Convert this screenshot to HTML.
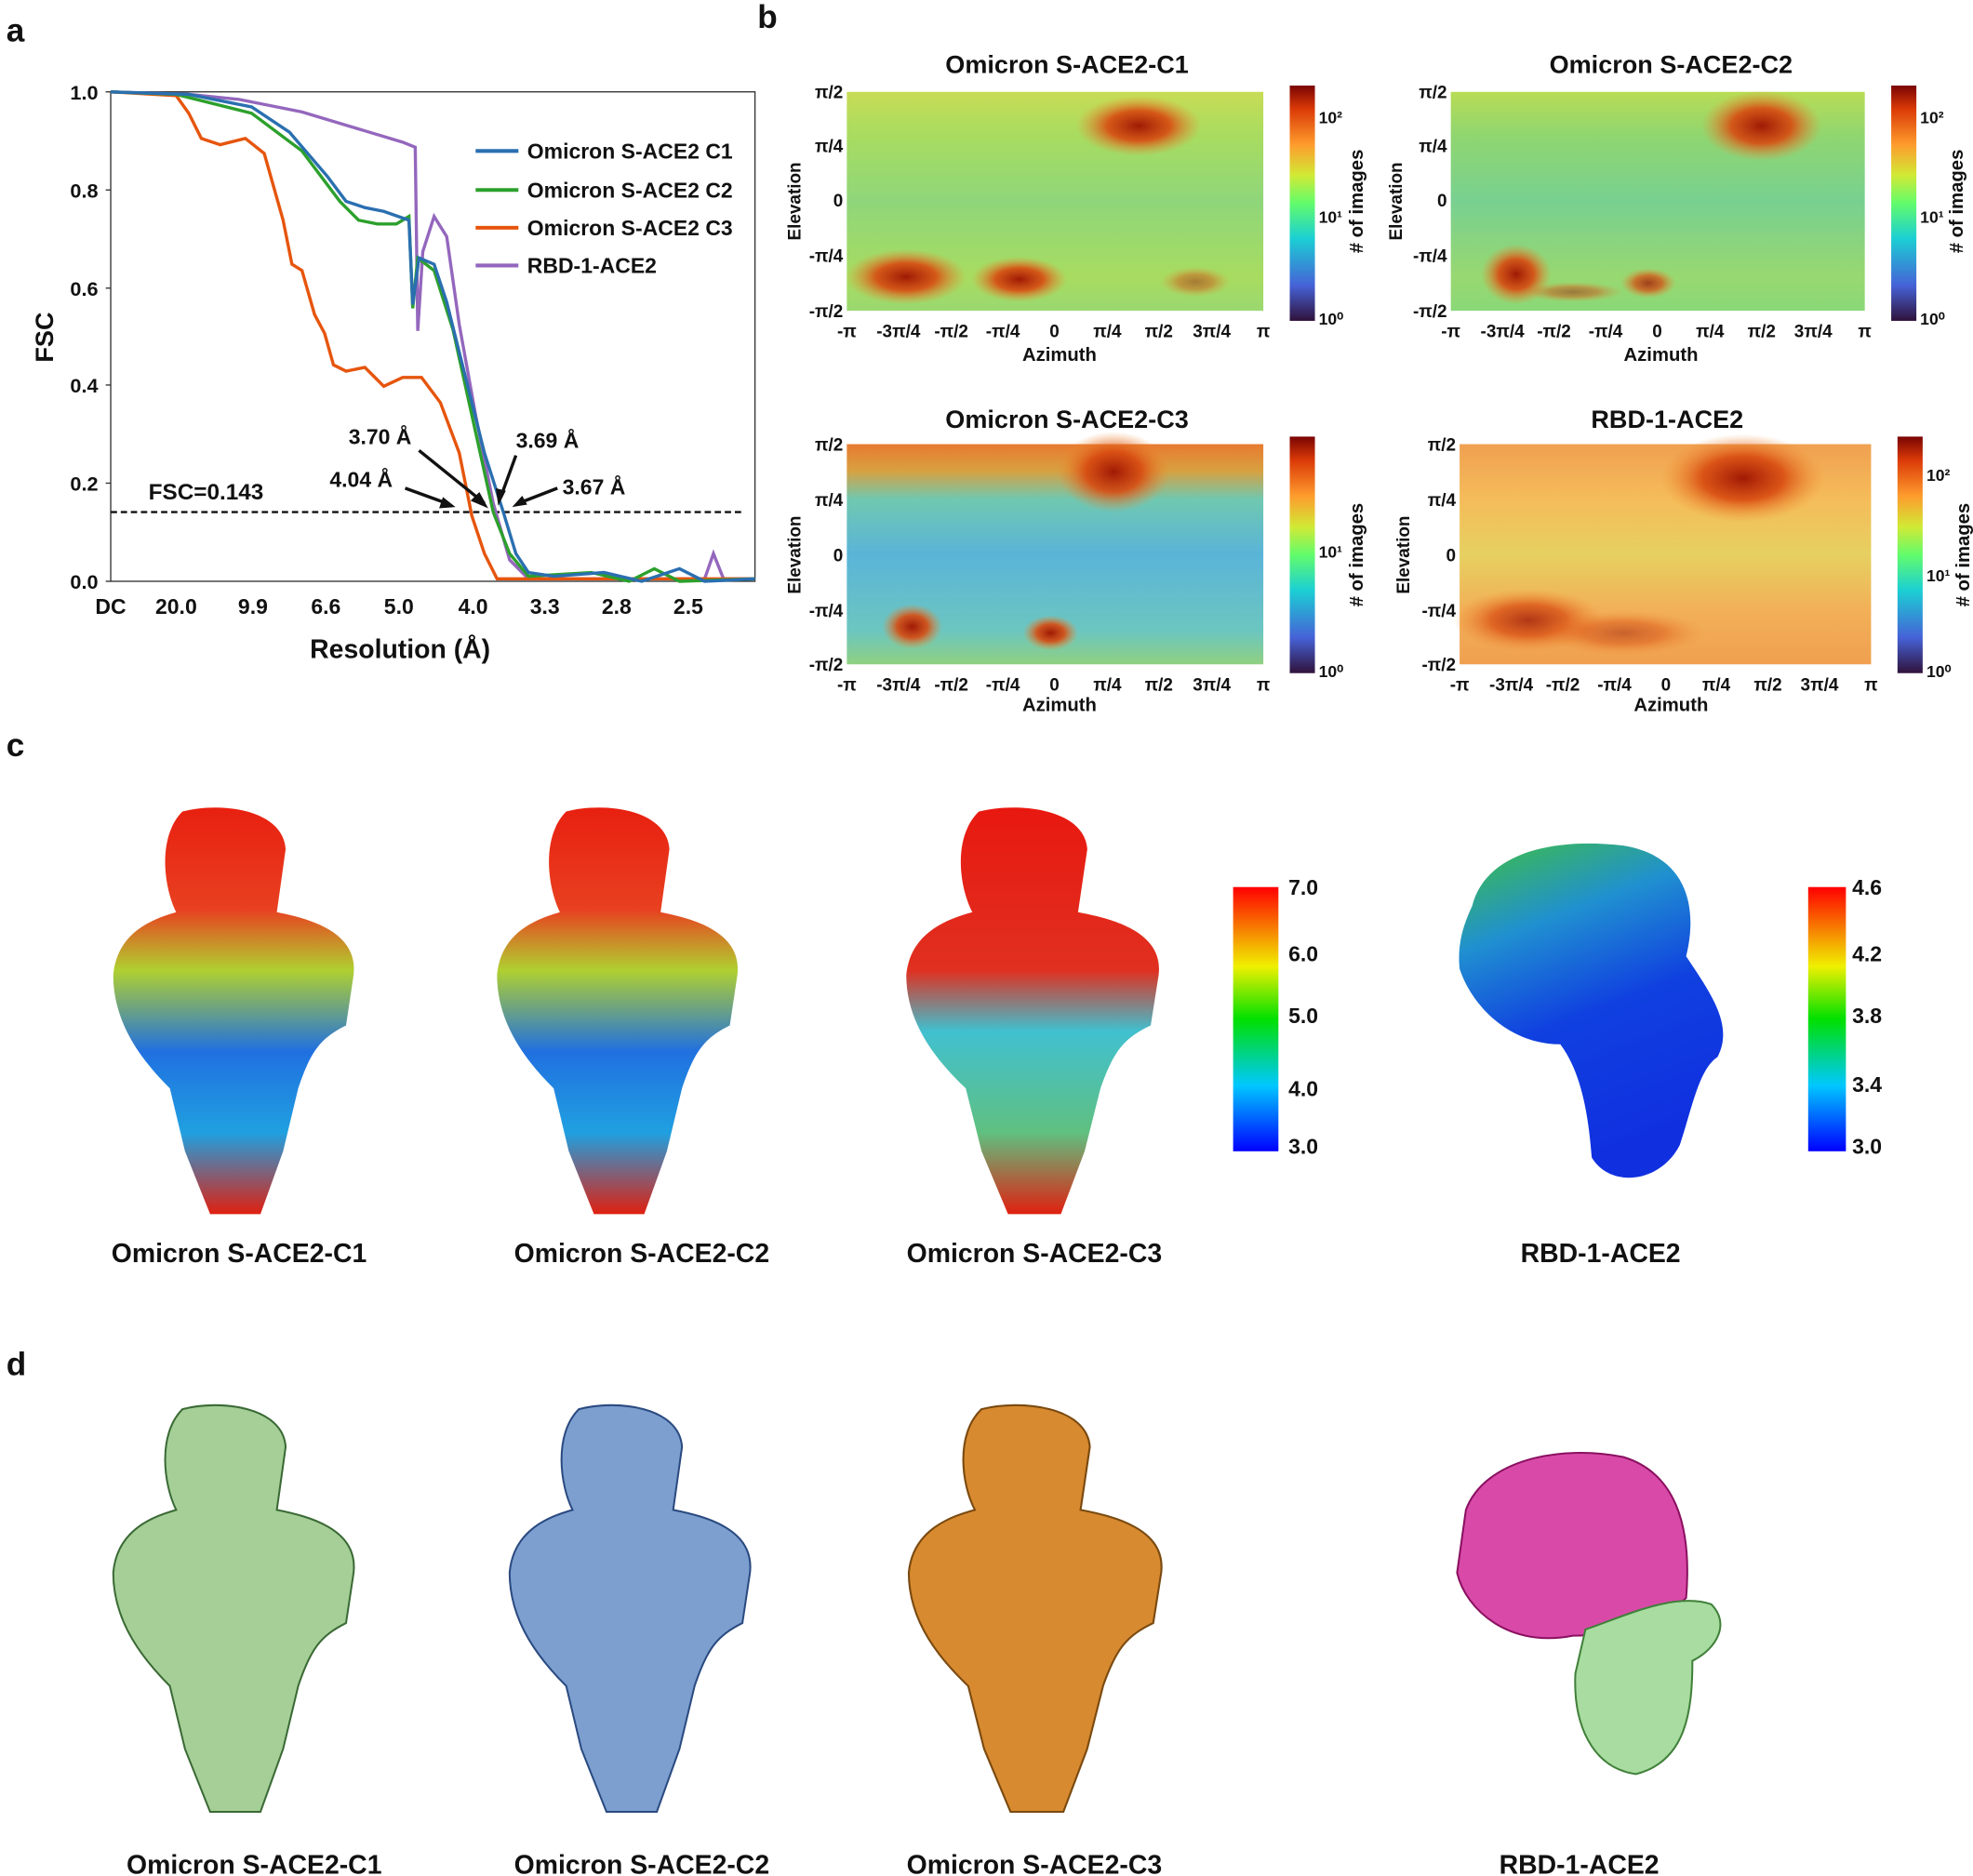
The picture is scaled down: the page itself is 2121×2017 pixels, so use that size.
<!DOCTYPE html>
<html><head><meta charset="utf-8"><style>
html,body{margin:0;padding:0;background:#fff}
svg{display:block}
text{font-family:"Liberation Sans",Arial,sans-serif;font-weight:bold;fill:#111}
</style></head><body>
<svg width="2121" height="2017" viewBox="0 0 1568 1491" preserveAspectRatio="none" xmlns="http://www.w3.org/2000/svg">
<defs>
<linearGradient id="jet" x1="0" y1="1" x2="0" y2="0">
<stop offset="0" stop-color="#30123b"/><stop offset="0.15" stop-color="#4662d7"/><stop offset="0.35" stop-color="#1bcfd4"/><stop offset="0.5" stop-color="#62fc6b"/><stop offset="0.62" stop-color="#d2e935"/><stop offset="0.75" stop-color="#fe9b2d"/><stop offset="0.9" stop-color="#db3a07"/><stop offset="1" stop-color="#7a0403"/>
</linearGradient>
<linearGradient id="rb" x1="0" y1="1" x2="0" y2="0">
<stop offset="0" stop-color="#0000ff"/><stop offset="0.25" stop-color="#00c8ff"/><stop offset="0.5" stop-color="#00e000"/><stop offset="0.7" stop-color="#f0f000"/><stop offset="1" stop-color="#ff0000"/>
</linearGradient>
<linearGradient id="m1" x1="0" y1="0" x2="0" y2="1"><stop offset="0" stop-color="#c8dc55"/><stop offset="0.2" stop-color="#a8dc60"/><stop offset="0.5" stop-color="#8fd67a"/><stop offset="0.85" stop-color="#a8dc60"/><stop offset="1" stop-color="#9ad870"/></linearGradient>
<linearGradient id="m2" x1="0" y1="0" x2="0" y2="1"><stop offset="0" stop-color="#b8dc55"/><stop offset="0.2" stop-color="#90d670"/><stop offset="0.5" stop-color="#78d090"/><stop offset="0.85" stop-color="#98d870"/><stop offset="1" stop-color="#8ad878"/></linearGradient>
<linearGradient id="m3" x1="0" y1="0" x2="0" y2="1"><stop offset="0" stop-color="#e87a30"/><stop offset="0.12" stop-color="#d8a040"/><stop offset="0.25" stop-color="#70c8b0"/><stop offset="0.5" stop-color="#5ab4d8"/><stop offset="0.85" stop-color="#6cc6c0"/><stop offset="1" stop-color="#90d080"/></linearGradient>
<linearGradient id="m4" x1="0" y1="0" x2="0" y2="1"><stop offset="0" stop-color="#f0a050"/><stop offset="0.25" stop-color="#f5bc5a"/><stop offset="0.5" stop-color="#e6d060"/><stop offset="0.75" stop-color="#f2b058"/><stop offset="1" stop-color="#f0a050"/></linearGradient>
<radialGradient id="hot"><stop offset="0" stop-color="#a01a05"/><stop offset="0.5" stop-color="#d84a10" stop-opacity="0.9"/><stop offset="1" stop-color="#f08a30" stop-opacity="0"/></radialGradient>
<linearGradient id="sp1" x1="0" y1="0" x2="0" y2="1"><stop offset="0" stop-color="#e82010"/><stop offset="0.25" stop-color="#e84020"/><stop offset="0.4" stop-color="#b0d030"/><stop offset="0.6" stop-color="#2070e0"/><stop offset="0.8" stop-color="#20a0e0"/><stop offset="1" stop-color="#e02010"/></linearGradient>
<linearGradient id="sp3" x1="0" y1="0" x2="0" y2="1"><stop offset="0" stop-color="#e81810"/><stop offset="0.4" stop-color="#e03020"/><stop offset="0.55" stop-color="#40c0d0"/><stop offset="0.8" stop-color="#60c080"/><stop offset="1" stop-color="#e02010"/></linearGradient>
<linearGradient id="rbdg" x1="0" y1="0" x2="0.3" y2="1"><stop offset="0" stop-color="#40c040"/><stop offset="0.3" stop-color="#2090d0"/><stop offset="0.6" stop-color="#1040e0"/><stop offset="1" stop-color="#1030e0"/></linearGradient>
<path id="spike" d="M -40,0 C -10,-8 40,-2 42,30 L 35,80 C 60,85 100,95 96,130 L 90,170 C 70,180 62,190 52,220 L 40,270 L 22,320 L -18,320 L -38,270 L -50,220 C -70,200 -95,170 -95,130 C -92,95 -62,85 -45,80 C -55,60 -60,20 -40,0 Z"/>
</defs>

<!-- Panel a -->
<text x="5" y="33" font-size="26">a</text>
<rect x="88" y="73" width="512" height="389" fill="none" stroke="#333" stroke-width="1"/>
<g font-size="16" text-anchor="end">
<text x="78" y="79">1.0</text><text x="78" y="157">0.8</text><text x="78" y="235">0.6</text><text x="78" y="312">0.4</text><text x="78" y="390">0.2</text><text x="78" y="468">0.0</text>
</g>
<g stroke="#333"><line x1="84" y1="73" x2="88" y2="73"/><line x1="84" y1="151" x2="88" y2="151"/><line x1="84" y1="229" x2="88" y2="229"/><line x1="84" y1="306" x2="88" y2="306"/><line x1="84" y1="384" x2="88" y2="384"/><line x1="84" y1="462" x2="88" y2="462"/></g>
<g font-size="17" text-anchor="middle">
<text x="88" y="488">DC</text><text x="140" y="488">20.0</text><text x="201" y="488">9.9</text><text x="259" y="488">6.6</text><text x="317" y="488">5.0</text><text x="376" y="488">4.0</text><text x="433" y="488">3.3</text><text x="490" y="488">2.8</text><text x="547" y="488">2.5</text>
</g>
<text x="318" y="523" font-size="21" text-anchor="middle">Resolution (Å)</text>
<text x="42" y="268" font-size="20" text-anchor="middle" transform="rotate(-90 42 268)">FSC</text>
<line x1="88" y1="407" x2="590" y2="407" stroke="#111" stroke-width="1.8" stroke-dasharray="5,3"/>
<text x="118" y="397" font-size="18">FSC=0.143</text>
<polyline fill="none" stroke="#9467bd" stroke-width="2.5" points="88,73 150,75 190,79 240,89 290,104 320,113 330,117 332,263 336,200 345,172 355,188 365,258 378,330 392,400 405,445 420,460 560,460 567,440 575,460 600,460"/>
<polyline fill="none" stroke="#e6550d" stroke-width="2.5" points="88,73 140,76 150,90 160,110 175,115 195,110 210,122 225,175 232,210 240,215 250,250 258,265 265,290 275,295 290,292 305,307 320,300 335,300 350,320 365,360 375,410 385,440 395,460 600,460"/>
<polyline fill="none" stroke="#2ca02c" stroke-width="2.5" points="88,73 140,75 200,90 240,120 270,160 285,175 300,178 315,178 325,172 328,245 332,205 345,215 360,262 375,330 392,407 405,440 420,458 470,455 500,462 520,452 540,462 600,460"/>
<polyline fill="none" stroke="#2a6fb0" stroke-width="2.5" points="88,73 150,75 200,85 230,105 260,140 275,160 290,165 305,168 325,175 328,242 333,205 345,210 355,240 370,300 385,360 400,407 410,440 420,455 440,458 480,455 510,462 540,452 560,462 600,460"/>
<g stroke-width="3"><line x1="378" y1="120" x2="412" y2="120" stroke="#2a6fb0"/><line x1="378" y1="151" x2="412" y2="151" stroke="#2ca02c"/><line x1="378" y1="181" x2="412" y2="181" stroke="#e6550d"/><line x1="378" y1="211" x2="412" y2="211" stroke="#9467bd"/></g>
<g font-size="17"><text x="419" y="126">Omicron S-ACE2 C1</text><text x="419" y="157">Omicron S-ACE2 C2</text><text x="419" y="187">Omicron S-ACE2 C3</text><text x="419" y="217">RBD-1-ACE2</text></g>
<g font-size="17"><text x="277" y="353">3.70 Å</text><text x="410" y="356">3.69 Å</text><text x="262" y="387">4.04 Å</text><text x="447" y="393">3.67 Å</text></g>
<g stroke="#111" stroke-width="2.5"><line x1="333" y1="358" x2="385" y2="400"/><line x1="322" y1="388" x2="355" y2="400"/><line x1="410" y1="362" x2="398" y2="395"/><line x1="443" y1="388" x2="412" y2="400"/></g>
<g fill="#111"><polygon points="388,404 374,398 381,391"/><polygon points="362,403 349,404 352,395"/><polygon points="396,402 394,388 402,390"/><polygon points="407,403 415,394 419,401"/></g>

<!-- Panel b -->
<text x="602" y="22" font-size="26">b</text>
<g font-size="20" text-anchor="middle"><text x="848" y="58">Omicron S-ACE2-C1</text><text x="1328" y="58">Omicron S-ACE2-C2</text><text x="848" y="340">Omicron S-ACE2-C3</text><text x="1325" y="340">RBD-1-ACE2</text></g>

<rect x="673" y="73" width="331" height="174" fill="url(#m1)"/>
<ellipse cx="905" cy="100" rx="50" ry="24" fill="url(#hot)"/>
<ellipse cx="720" cy="220" rx="48" ry="22" fill="url(#hot)"/>
<ellipse cx="810" cy="222" rx="38" ry="18" fill="url(#hot)"/>
<ellipse cx="950" cy="224" rx="28" ry="12" fill="url(#hot)" opacity="0.5"/>
<rect x="1153" y="73" width="329" height="174" fill="url(#m2)"/>
<ellipse cx="1400" cy="100" rx="48" ry="28" fill="url(#hot)"/>
<ellipse cx="1205" cy="218" rx="28" ry="24" fill="url(#hot)"/>
<ellipse cx="1250" cy="232" rx="40" ry="8" fill="url(#hot)" opacity="0.5"/>
<ellipse cx="1310" cy="225" rx="22" ry="12" fill="url(#hot)" opacity="0.8"/>
<rect x="673" y="353" width="331" height="175" fill="url(#m3)"/>
<ellipse cx="885" cy="375" rx="45" ry="32" fill="url(#hot)"/>
<ellipse cx="725" cy="498" rx="24" ry="18" fill="url(#hot)"/>
<ellipse cx="835" cy="503" rx="22" ry="14" fill="url(#hot)"/>
<rect x="1160" y="353" width="327" height="175" fill="url(#m4)"/>
<ellipse cx="1385" cy="380" rx="65" ry="35" fill="url(#hot)"/>
<ellipse cx="1215" cy="493" rx="60" ry="25" fill="url(#hot)" opacity="0.8"/>
<ellipse cx="1290" cy="503" rx="65" ry="18" fill="url(#hot)" opacity="0.5"/>

<g font-size="14" text-anchor="end">
<text x="670" y="78">π/2</text><text x="670" y="121">π/4</text><text x="670" y="164">0</text><text x="670" y="208">-π/4</text><text x="670" y="252">-π/2</text>
<text x="1150" y="78">π/2</text><text x="1150" y="121">π/4</text><text x="1150" y="164">0</text><text x="1150" y="208">-π/4</text><text x="1150" y="252">-π/2</text>
<text x="670" y="358">π/2</text><text x="670" y="402">π/4</text><text x="670" y="446">0</text><text x="670" y="490">-π/4</text><text x="670" y="533">-π/2</text>
<text x="1157" y="358">π/2</text><text x="1157" y="402">π/4</text><text x="1157" y="446">0</text><text x="1157" y="490">-π/4</text><text x="1157" y="533">-π/2</text>
</g>
<g font-size="14" text-anchor="middle">
<g transform="translate(673,268)"><text x="0">-π</text><text x="41">-3π/4</text><text x="83">-π/2</text><text x="124">-π/4</text><text x="165">0</text><text x="207">π/4</text><text x="248">π/2</text><text x="290">3π/4</text><text x="331">π</text></g>
<g transform="translate(1153,268)"><text x="0">-π</text><text x="41">-3π/4</text><text x="82">-π/2</text><text x="123">-π/4</text><text x="164">0</text><text x="206">π/4</text><text x="247">π/2</text><text x="288">3π/4</text><text x="329">π</text></g>
<g transform="translate(673,549)"><text x="0">-π</text><text x="41">-3π/4</text><text x="83">-π/2</text><text x="124">-π/4</text><text x="165">0</text><text x="207">π/4</text><text x="248">π/2</text><text x="290">3π/4</text><text x="331">π</text></g>
<g transform="translate(1160,549)"><text x="0">-π</text><text x="41">-3π/4</text><text x="82">-π/2</text><text x="123">-π/4</text><text x="164">0</text><text x="204">π/4</text><text x="245">π/2</text><text x="286">3π/4</text><text x="327">π</text></g>
<text x="842" y="287" font-size="15">Azimuth</text><text x="1320" y="287" font-size="15">Azimuth</text><text x="842" y="565" font-size="15">Azimuth</text><text x="1328" y="565" font-size="15">Azimuth</text>
</g>
<g font-size="14" text-anchor="middle">
<text transform="translate(636,160) rotate(-90)">Elevation</text><text transform="translate(1114,160) rotate(-90)">Elevation</text>
<text transform="translate(636,441) rotate(-90)">Elevation</text><text transform="translate(1120,441) rotate(-90)">Elevation</text>
</g>
<rect x="1025" y="68" width="20" height="187" fill="url(#jet)"/>
<rect x="1503" y="68" width="20" height="187" fill="url(#jet)"/>
<rect x="1025" y="347" width="20" height="188" fill="url(#jet)"/>
<rect x="1508" y="347" width="20" height="188" fill="url(#jet)"/>
<g font-size="13" font-weight="normal">
<text x="1048" y="98">10²</text><text x="1048" y="177">10¹</text><text x="1048" y="258">10⁰</text>
<text x="1526" y="98">10²</text><text x="1526" y="177">10¹</text><text x="1526" y="258">10⁰</text>
<text x="1048" y="443">10¹</text><text x="1048" y="538">10⁰</text>
<text x="1531" y="382">10²</text><text x="1531" y="462">10¹</text><text x="1531" y="538">10⁰</text>
</g>
<g font-size="15" text-anchor="middle">
<text transform="translate(1083,160) rotate(-90)"># of images</text>
<text transform="translate(1560,160) rotate(-90)"># of images</text>
<text transform="translate(1083,441) rotate(-90)"># of images</text>
<text transform="translate(1565,441) rotate(-90)"># of images</text>
</g>

<!-- Panel c -->
<text x="5" y="601" font-size="26">c</text>
<use href="#spike" transform="translate(185,645)" fill="url(#sp1)"/>
<use href="#spike" transform="translate(490,645)" fill="url(#sp1)"/>
<use href="#spike" transform="translate(820,645) scale(1.05,1)" fill="url(#sp3)"/>
<path d="M1170,720 C1180,680 1230,665 1290,672 C1340,680 1350,720 1340,760 C1360,790 1378,815 1365,840 C1350,850 1345,880 1335,910 C1320,940 1280,945 1265,920 C1262,880 1255,850 1240,830 C1200,830 1170,800 1160,770 C1158,750 1163,735 1170,720 Z" fill="url(#rbdg)"/>
<rect x="980" y="705" width="36" height="210" fill="url(#rb)"/>
<rect x="1437" y="705" width="30" height="210" fill="url(#rb)"/>
<g font-size="17">
<text x="1024" y="711">7.0</text><text x="1024" y="764">6.0</text><text x="1024" y="813">5.0</text><text x="1024" y="871">4.0</text><text x="1024" y="917">3.0</text>
<text x="1472" y="711">4.6</text><text x="1472" y="764">4.2</text><text x="1472" y="813">3.8</text><text x="1472" y="868">3.4</text><text x="1472" y="917">3.0</text>
</g>
<g font-size="21" text-anchor="middle"><text x="190" y="1003">Omicron S-ACE2-C1</text><text x="510" y="1003">Omicron S-ACE2-C2</text><text x="822" y="1003">Omicron S-ACE2-C3</text><text x="1272" y="1003">RBD-1-ACE2</text></g>

<!-- Panel d -->
<text x="5" y="1093" font-size="26">d</text>
<use href="#spike" transform="translate(185,1120)" fill="#a6cf98" stroke="#3a6a35" stroke-width="1.5"/>
<use href="#spike" transform="translate(500,1120)" fill="#7d9fd0" stroke="#2a4a80" stroke-width="1.5"/>
<use href="#spike" transform="translate(822,1120) scale(1.05,1)" fill="#d88a30" stroke="#7a4a10" stroke-width="1.5"/>
<path d="M1165,1200 C1180,1160 1240,1148 1290,1158 C1330,1170 1345,1210 1340,1270 C1320,1290 1280,1300 1250,1300 C1200,1310 1165,1280 1158,1250 Z" fill="#d94aa8" stroke="#8a1060" stroke-width="1.5"/>
<path d="M1260,1295 C1290,1285 1330,1265 1360,1275 C1375,1290 1365,1310 1345,1320 C1345,1360 1340,1400 1300,1410 C1265,1405 1250,1370 1252,1330 Z" fill="#a8dca0" stroke="#40803a" stroke-width="1.5"/>
<g font-size="21" text-anchor="middle"><text x="202" y="1489">Omicron S-ACE2-C1</text><text x="510" y="1489">Omicron S-ACE2-C2</text><text x="822" y="1489">Omicron S-ACE2-C3</text><text x="1255" y="1489">RBD-1-ACE2</text></g>
</svg>
</body></html>
